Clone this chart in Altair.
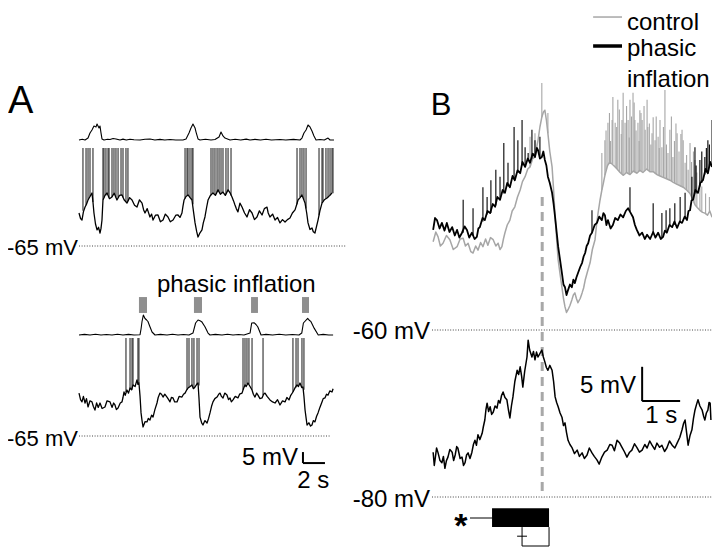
import altair as alt
import pandas as pd

FONT = "Liberation Sans"

# ---------------- Panel A, upper record (A1) ----------------
# membrane potential trace: time (s), mV
A1_T = [0.0, 0.14, 0.27, 0.4, 0.55, 0.68, 0.82, 1.0, 1.18, 1.27, 1.36, 1.5, 1.64, 1.78, 1.91, 2.0, 2.09, 2.14,
        2.18, 2.36, 2.55, 2.77, 3.0, 3.2, 3.45, 3.68, 3.91, 4.1, 4.36, 4.6, 4.82, 5.05, 5.27, 5.5, 5.73, 5.87,
        6.0, 6.2, 6.45, 6.6, 6.73, 6.95, 7.18, 7.4, 7.64, 7.85, 8.09, 8.3, 8.55, 8.8, 9.0, 9.18, 9.36, 9.45,
        9.55, 9.73, 9.91, 10.1, 10.27, 10.4, 10.55, 10.7, 10.82, 11.0, 11.18, 11.3, 11.45, 11.6, 11.73, 11.95,
        12.18, 12.4, 12.64, 12.85, 13.09, 13.3, 13.55, 13.75, 13.91, 14.05, 14.18, 14.3, 14.45, 14.63, 14.82,
        15.05, 15.27, 15.5, 15.73, 15.95, 16.18, 16.4, 16.64, 16.85, 17.09, 17.2, 17.36, 17.6, 17.82, 18.05,
        18.27, 18.5, 18.73, 18.95, 19.18, 19.4, 19.64, 19.8, 19.91, 20.1, 20.27, 20.4, 20.55, 20.7, 20.82, 21.0,
        21.18, 21.3, 21.45, 21.6, 21.73, 21.9, 22.09, 22.3, 22.55, 22.8, 23.0]
A1_MV = [-50.0, -52.5, -53.2, -49.5, -47.3, -46.0, -44.1, -42.5, -40.9, -45.0, -50.0, -55.0, -57.7, -56.5, -59.1,
         -57.0, -53.2, -48.0, -44.1, -42.0, -40.9, -43.5, -42.7, -41.0, -44.1, -42.0, -41.8, -44.0, -45.5, -43.0,
         -44.1, -46.5, -47.3, -44.0, -45.5, -48.5, -50.0, -48.0, -51.8, -50.5, -53.2, -51.0, -50.9, -54.0, -53.2,
         -50.5, -51.8, -54.0, -53.2, -51.0, -50.9, -52.0, -50.0, -47.0, -44.1, -42.5, -41.8, -43.0, -44.1, -49.0,
         -54.5, -58.5, -60.9, -59.0, -57.7, -54.5, -51.8, -47.5, -44.1, -42.0, -40.9, -42.0, -39.5, -41.5, -40.5,
         -42.0, -39.5, -41.0, -42.7, -44.5, -46.4, -48.0, -49.5, -45.5, -47.3, -50.0, -51.8, -48.5, -50.0, -53.0,
         -51.8, -49.0, -50.9, -48.0, -47.3, -50.0, -51.8, -50.5, -53.2, -52.0, -54.5, -53.0, -54.1, -53.0, -52.3,
         -50.0, -48.6, -46.0, -44.1, -43.0, -41.8, -43.5, -45.5, -50.0, -54.5, -57.5, -56.8, -58.5, -59.1, -56.0,
         -53.2, -49.0, -45.5, -44.0, -43.2, -42.0, -40.9]
# action potentials: (time s, foot mV); tops are truncated at A_SPIKE_TOP
A1_SPIKES = [(0.36, -49), (0.64, -46.5), (0.82, -44), (1.0, -42.5), (1.27, -45),
             (2.18, -44), (2.27, -43), (2.45, -42), (2.64, -41.5), (2.73, -43), (3.0, -42.7), (3.18, -41),
             (3.36, -43), (3.55, -43), (3.82, -42), (4.0, -43), (4.27, -45), (4.45, -44.5),
             (9.64, -43.5), (9.82, -42), (9.91, -41.8), (10.09, -43), (10.27, -44.1), (10.36, -46),
             (12.0, -42), (12.18, -40.9), (12.36, -41.8), (12.55, -40.5), (12.73, -40.3), (12.91, -41),
             (13.09, -40.5), (13.36, -41.5), (13.55, -39.5), (13.82, -42),
             (19.82, -46), (20.09, -43), (20.27, -41.8), (20.45, -44), (20.64, -48),
             (21.82, -51), (22.09, -45.5), (22.18, -44.5), (22.45, -43.5), (22.64, -42.8), (22.82, -42),
             (23.0, -40.9), (23.09, -41)]
A_SPIKE_TOP = -20.5
# respiratory (inflation) monitor, arbitrary units
A1_RESP_T = [0.0, 0.3, 0.55, 0.82, 1.0, 1.18, 1.36, 1.55, 1.64, 1.82, 1.91, 2.0, 2.09, 2.27, 2.6, 2.82, 3.1, 3.36,
             3.73, 4.0, 4.3, 4.64, 5.0, 5.55, 6.0, 6.45, 6.9, 7.36, 7.8, 8.27, 8.8, 9.45, 9.73, 10.0, 10.18, 10.36,
             10.55, 10.64, 10.82, 11.0, 11.5, 12.0, 12.36, 12.73, 12.91, 13.09, 13.27, 13.73, 14.2, 14.7, 15.2,
             15.55, 16.0, 16.5, 17.0, 17.5, 18.27, 18.8, 19.5, 20.09, 20.27, 20.45, 20.64, 20.82, 21.0, 21.18,
             21.36, 21.55, 21.91, 22.3, 22.64, 22.82, 23.18]
A1_RESP = [0.0, 0.05, 0.0, 0.13, 0.47, 0.67, 0.93, 0.87, 1.07, 0.8, 0.93, 0.47, 0.07, 0.0, 0.05, 0.03, 0.1, 0.07,
           0.0, 0.06, 0.0, 0.05, 0.02, 0.0, 0.05, 0.07, 0.0, 0.04, 0.0, 0.03, 0.0, 0.0, 0.07, 0.47, 0.8, 1.07,
           0.8, 0.53, 0.07, 0.0, 0.05, 0.0, 0.03, 0.2, 0.53, 0.27, 0.13, 0.0, 0.05, 0.0, 0.06,
           0.0, 0.04, 0.0, 0.05, 0.0, 0.03, 0.0, 0.04, 0.0, 0.13, 0.47, 0.67, 1.0, 0.87, 0.6,
           0.27, 0.0, 0.03, 0.0, 0.13, 0.0, 0.0]

# ---------------- Panel A, lower record (A2, phasic inflation) ----------------
A2_T = [0.0, 0.14, 0.27, 0.4, 0.55, 0.68, 0.82, 1.0, 1.18, 1.3, 1.45, 1.6, 1.75, 1.91, 2.1, 2.36, 2.55, 2.82, 3.0,
        3.15, 3.27, 3.4, 3.55, 3.75, 3.91, 4.0, 4.09, 4.2, 4.36, 4.5, 4.64, 4.78, 4.91, 5.1, 5.27, 5.36, 5.45,
        5.55, 5.64, 5.73, 5.82, 6.0, 6.18, 6.3, 6.45, 6.6, 6.73, 6.9, 7.09, 7.2, 7.36, 7.5, 7.64, 7.8, 8.0, 8.15,
        8.27, 8.4, 8.55, 8.7, 8.91, 9.1, 9.36, 9.5, 9.64, 9.8, 9.91, 10.1, 10.27, 10.4, 10.55, 10.7, 10.82,
        10.91, 11.0, 11.15, 11.27, 11.45, 11.64, 11.78, 11.91, 12.05, 12.18, 12.35, 12.55, 12.7, 12.82, 12.95,
        13.09, 13.25, 13.45, 13.6, 13.73, 13.85, 14.0, 14.2, 14.45, 14.6, 14.82, 14.95, 15.09, 15.2, 15.36,
        15.55, 15.73, 15.85, 16.0, 16.15, 16.27, 16.45, 16.64, 16.78, 16.91, 17.1, 17.36, 17.6, 17.82, 18.05,
        18.27, 18.5, 18.73, 18.9, 19.09, 19.25, 19.45, 19.65, 19.82, 19.95, 20.09, 20.25, 20.36, 20.45, 20.55,
        20.65, 20.73, 20.9, 21.05, 21.18, 21.3, 21.45, 21.6, 21.73, 21.9, 22.09, 22.2, 22.36, 22.5, 22.64,
        22.8, 23.0, 23.1]
A2_MV = [-45.5, -48.5, -49.5, -47.0, -50.0, -48.0, -51.8, -49.0, -49.5, -51.5, -53.2, -50.0, -52.0, -50.0, -52.5,
         -51.8, -49.0, -49.5, -52.0, -50.0, -50.9, -53.0, -52.3, -50.0, -49.5, -47.5, -45.0, -46.5, -44.1, -45.5,
         -43.2, -44.0, -41.8, -42.5, -39.5, -41.5, -40.9, -47.0, -54.5, -58.0, -60.9, -58.5, -58.6, -57.0, -57.7,
         -55.5, -56.4, -53.0, -50.0, -47.5, -45.5, -46.0, -47.3, -46.0, -47.3, -48.5, -49.5, -47.5, -47.7, -49.5,
         -49.5, -47.0, -47.3, -46.0, -45.5, -44.0, -43.2, -42.5, -41.8, -43.5, -42.7, -41.5, -40.9, -48.0, -56.4,
         -59.0, -60.0, -58.0, -59.1, -57.0, -54.5, -51.5, -49.5, -48.0, -47.3, -46.0, -45.5, -47.0, -47.7, -45.5,
         -46.4, -48.5, -47.7, -49.5, -48.6, -47.0, -47.7, -46.0, -45.5, -43.5, -41.8, -42.5, -40.9, -42.5, -44.1,
         -46.0, -47.3, -45.5, -46.4, -48.0, -47.7, -46.0, -45.5, -47.0, -48.6, -49.5, -50.0, -48.5, -50.9, -49.0,
         -49.5, -47.5, -48.6, -46.5, -45.0, -43.0, -41.8, -42.5, -40.9, -43.0, -42.7, -47.0, -53.2, -57.0, -60.0,
         -59.0, -60.5, -60.0, -58.0, -58.6, -56.0, -54.5, -52.0, -49.5, -48.0, -47.7, -46.0, -46.4, -44.5, -45.0,
         -43.5]
A2_SPIKES = [(4.27, -45), (4.64, -43.5), (4.82, -44), (4.91, -42), (5.36, -41.5), (5.45, -41),
             (9.82, -44), (10.0, -43), (10.27, -42), (10.45, -43), (10.73, -41.5), (10.91, -42),
             (14.91, -44), (15.09, -42), (15.27, -41.5), (15.45, -41.5), (15.73, -44), (16.73, -46.5),
             (19.45, -45), (19.73, -43), (19.91, -42), (20.27, -42.5), (20.45, -44)]
A2_RESP_T = [0.0, 0.5, 1.0, 1.5, 2.0, 2.5, 3.0, 3.5, 4.0, 4.5, 5.0, 5.55, 5.64, 5.73, 5.85, 6.0, 6.15, 6.27, 6.45,
             6.64, 6.91, 7.4, 8.0, 8.5, 9.0, 9.5, 10.0, 10.36, 10.6, 10.82, 11.0, 11.15, 11.45, 11.73, 11.91, 12.4,
             13.0, 13.5, 14.0, 14.5, 15.0, 15.55, 15.7, 15.91, 16.09, 16.25, 16.55, 17.0, 17.6, 18.2, 18.8, 19.4,
             20.0, 20.25, 20.4, 20.79, 20.91, 21.09, 21.39, 21.75, 22.2, 22.7, 23.1]
A2_RESP = [0.0, 0.04, 0.0, 0.05, 0.0, 0.03, 0.0, 0.05, 0.0, 0.04, 0.0, 0.02, 0.4, 0.9, 1.33, 1.1, 1.0, 0.9, 0.55,
           0.2, 0.0, 0.04, 0.0, 0.05, 0.0, 0.03, 0.0, 0.13, 0.8, 1.0, 0.95, 0.89, 0.55, 0.13, 0.0, 0.04,
           0.0, 0.05, 0.0, 0.03, 0.0, 0.13, 0.8, 0.82, 0.7, 0.55, 0.0, 0.04, 0.0, 0.05, 0.0, 0.03,
           0.0, 0.13, 0.8, 1.11, 1.0, 0.89, 0.44, 0.0, 0.04, 0.0, 0.0]
# phasic inflation pulses (start s, end s)
INFLATIONS = [(5.45, 6.18), (10.45, 11.18), (15.64, 16.27), (20.27, 20.91)]

# ---------------- Panel B ----------------
B_T_PHASIC = [0.03, 0.08, 0.13, 0.2, 0.26, 0.33, 0.39, 0.46, 0.53, 0.6, 0.66, 0.72, 0.79, 0.86, 0.92, 0.98, 1.05,
              1.12, 1.18, 1.22, 1.26, 1.33, 1.39, 1.46, 1.53, 1.6, 1.66, 1.72, 1.79, 1.86, 1.92, 1.98, 2.05,
              2.12, 2.18, 2.25, 2.32, 2.38, 2.45, 2.52, 2.58, 2.65, 2.71, 2.76, 2.79, 2.84, 2.89, 2.93, 2.97,
              3.01, 3.05, 3.1, 3.16, 3.2, 3.24, 3.28, 3.32, 3.37, 3.42, 3.46, 3.5, 3.54, 3.58, 3.63, 3.68, 3.72,
              3.76, 3.8, 3.84, 3.9, 3.95, 3.99, 4.03, 4.07, 4.11, 4.16, 4.21, 4.28, 4.34, 4.4, 4.47, 4.51, 4.55,
              4.59, 4.63, 4.7, 4.76, 4.82, 4.89, 4.96, 5.03, 5.1, 5.16, 5.22, 5.29, 5.34, 5.39, 5.46, 5.53, 5.6,
              5.66, 5.74, 5.82, 5.88, 5.95, 6.02, 6.08, 6.13, 6.18, 6.25, 6.32, 6.38, 6.45, 6.52, 6.58, 6.65,
              6.71, 6.75, 6.79, 6.83, 6.87, 6.93, 7.0, 7.06, 7.13, 7.2, 7.26, 7.32, 7.37]
B_MV_PHASIC = [-45.7, -44.0, -44.3, -45.5, -44.7, -45.8, -44.7, -46.0, -45.3, -46.5, -45.7, -46.8, -46.1, -45.2,
               -45.7, -46.8, -46.1, -47.0, -46.7, -45.5, -45.3, -44.0, -44.3, -43.0, -43.3, -42.0, -42.4, -41.0,
               -41.4, -40.0, -40.4, -39.0, -39.6, -38.0, -38.6, -37.2, -37.6, -36.0, -36.7, -35.5, -36.1, -34.8,
               -35.3, -34.0, -34.3, -35.5, -35.3, -34.5, -35.7, -36.5, -38.1, -39.0, -40.4, -42.0, -43.9, -46.0,
               -48.1, -50.0, -51.9, -53.5, -53.9, -55.0, -54.3, -53.5, -53.9, -52.8, -53.3, -52.5, -51.9, -51.0,
               -50.4, -49.5, -49.0, -48.0, -47.6, -46.5, -46.1, -45.0, -44.7, -43.8, -44.3, -43.3, -43.6, -45.0,
               -44.3, -45.5, -45.0, -44.0, -44.3, -43.5, -43.9, -43.0, -42.6, -43.2, -43.9, -45.0, -45.7, -46.5,
               -46.1, -47.0, -46.4, -47.0, -46.0, -46.8, -46.1, -47.0, -46.7, -45.8, -46.1, -45.0, -45.3, -44.5,
               -45.4, -44.5, -44.7, -43.8, -44.3, -43.0, -42.9, -41.5, -41.4, -40.0, -40.4, -39.0, -38.6, -37.0,
               -37.6, -36.0, -36.7]
# (time, top mV, foot mV)
B_SPIKES_PHASIC = [(0.82, -41.4, -46.1), (1.08, -42.6, -46.5), (1.34, -39.6, -44.5), (1.45, -41.0, -43.5),
                   (1.55, -38.6, -43.3), (1.68, -37.1, -42.2), (1.79, -38.1, -41.4), (1.89, -33.3, -40.5),
                   (2.0, -36.1, -39.5), (2.16, -31.0, -38.5), (2.26, -32.9, -37.5), (2.37, -30.0, -36.5),
                   (2.45, -33.9, -36.7), (2.53, -34.7, -35.8), (2.63, -31.4, -35.5), (2.71, -32.9, -35.3),
                   (2.84, -32.4, -35.4), (4.21, -42.9, -46.1), (5.21, -39.6, -43.0), (5.82, -41.9, -46.0),
                   (6.05, -43.3, -46.8), (6.16, -42.9, -46.0), (6.26, -42.6, -45.1), (6.39, -41.9, -45.0),
                   (6.53, -41.0, -44.6), (6.66, -40.4, -44.0), (6.84, -38.1, -41.5), (6.92, -33.9, -40.3),
                   (6.95, -36.5, -40.5), (7.05, -35.7, -39.5), (7.1, -34.5, -39.0), (7.18, -35.3, -37.8),
                   (7.22, -34.0, -37.5), (7.26, -32.9, -37.6), (7.3, -33.5, -36.5), (7.37, -30.0, -36.7)]
B_T_CONTROL = [0.03, 0.1, 0.16, 0.22, 0.29, 0.38, 0.47, 0.56, 0.66, 0.74, 0.82, 0.88, 0.95, 1.02, 1.08, 1.15, 1.21,
               1.28, 1.34, 1.41, 1.47, 1.54, 1.61, 1.68, 1.74, 1.79, 1.84, 1.88, 1.92, 1.98, 2.05, 2.11, 2.18,
               2.25, 2.32, 2.38, 2.45, 2.52, 2.58, 2.65, 2.71, 2.75, 2.79, 2.84, 2.89, 2.93, 2.97, 3.01, 3.05,
               3.1, 3.16, 3.2, 3.24, 3.28, 3.32, 3.37, 3.42, 3.46, 3.5, 3.54, 3.58, 3.63, 3.68, 3.72, 3.76, 3.8,
               3.84, 3.9, 3.95, 3.99, 4.03, 4.1, 4.16, 4.22, 4.29, 4.33, 4.37, 4.42, 4.47, 4.51, 4.55, 4.62, 4.68,
               4.78, 4.87, 4.95, 5.03, 5.12, 5.21, 5.3, 5.39, 5.47, 5.55, 5.65, 5.74, 5.83, 5.92, 6.0, 6.08, 6.17,
               6.26, 6.35, 6.45, 6.53, 6.61, 6.7, 6.79, 6.85, 6.92, 6.98, 7.05, 7.12, 7.18, 7.25, 7.31, 7.37]
B_MV_CONTROL = [-47.4, -46.0, -46.7, -48.0, -47.6, -46.5, -47.1, -48.5, -48.1, -47.0, -46.9, -48.0, -47.6, -48.8,
                -49.0, -48.0, -48.6, -47.5, -48.1, -47.0, -47.9, -46.8, -47.1, -48.0, -47.6, -48.5, -48.1, -47.0,
                -46.1, -45.0, -44.3, -43.0, -42.4, -41.0, -40.0, -38.8, -38.1, -37.0, -36.7, -35.5, -35.3, -34.0,
                -32.9, -31.0, -29.6, -28.9, -28.6, -30.0, -31.9, -34.5, -36.7, -40.0, -43.9, -47.0, -50.0, -52.0,
                -53.9, -55.5, -56.7, -57.5, -57.1, -56.5, -55.7, -55.0, -54.7, -55.5, -56.1, -55.5, -54.7, -54.0,
                -52.9, -51.5, -50.4, -48.5, -47.1, -45.0, -43.3, -41.5, -40.0, -39.0, -37.9, -36.5, -36.0, -36.5,
                -37.0, -37.5, -37.9, -37.5, -37.8, -37.3, -37.6, -37.2, -37.5, -37.0, -37.4, -37.4, -37.8, -38.0,
                -38.2, -38.4, -38.6, -38.9, -39.2, -39.4, -39.6, -40.0, -40.5, -41.2, -42.1, -42.5, -42.9, -43.2,
                -43.3, -43.6, -43.0, -43.9]
B_SPIKES_CONTROL = [(2.58, -32.4, -36.7), (2.71, -31.9, -35.3), (2.89, -24.7, -29.6), (3.05, -29.0, -31.9),
                    (4.47, -34.7, -40.0), (4.55, -32.9, -37.9), (4.58, -31.5, -37.2), (4.63, -30.4, -36.4),
                    (4.67, -29.0, -36.1), (4.7, -33.0, -36.0), (4.74, -30.0, -36.2), (4.76, -26.7, -36.3),
                    (4.82, -30.4, -36.7), (4.86, -31.0, -36.9), (4.89, -27.1, -37.1), (4.93, -28.5, -37.3),
                    (4.98, -32.0, -37.6), (5.0, -30.0, -37.7), (5.03, -26.1, -37.8), (5.08, -30.4, -37.6),
                    (5.12, -28.0, -37.5), (5.16, -30.0, -37.6), (5.19, -32.5, -37.7), (5.21, -27.1, -37.8),
                    (5.25, -29.5, -37.6), (5.29, -26.1, -37.4), (5.32, -27.5, -37.4), (5.34, -30.0, -37.5),
                    (5.37, -31.5, -37.6), (5.42, -30.4, -37.4), (5.45, -33.0, -37.3), (5.47, -28.6, -37.2),
                    (5.5, -29.0, -37.3), (5.53, -30.0, -37.4), (5.58, -28.0, -37.3), (5.61, -31.4, -37.1),
                    (5.66, -27.1, -37.1), (5.68, -31.0, -37.2), (5.72, -30.5, -37.3), (5.76, -33.5, -37.4),
                    (5.79, -31.9, -37.4), (5.82, -29.6, -37.4), (5.87, -32.9, -37.6), (5.9, -29.5, -37.7),
                    (5.95, -32.4, -37.9), (5.98, -34.0, -38.0), (6.0, -30.0, -38.0), (6.05, -33.9, -38.1),
                    (6.09, -31.0, -38.2), (6.13, -25.7, -38.3), (6.17, -33.5, -38.4), (6.21, -34.7, -38.5),
                    (6.26, -31.4, -38.6), (6.3, -29.5, -38.7), (6.34, -35.3, -38.8), (6.38, -33.0, -39.0),
                    (6.42, -30.5, -39.1), (6.45, -31.9, -39.2), (6.5, -34.5, -39.3), (6.55, -32.0, -39.5),
                    (6.58, -31.4, -39.5), (6.61, -32.9, -39.6), (6.66, -36.1, -39.8), (6.7, -35.0, -40.0),
                    (6.74, -37.1, -40.2), (6.79, -33.3, -40.5), (6.83, -36.0, -40.9), (6.88, -34.5, -41.5),
                    (6.92, -35.7, -42.1), (6.97, -37.5, -42.4), (7.05, -38.6, -42.9), (7.1, -39.5, -43.1),
                    (7.2, -40.5, -43.4), (7.3, -41.0, -43.1)]
# lower record of B
B_T_LOW = [0.03, 0.06, 0.08, 0.12, 0.16, 0.21, 0.26, 0.3, 0.34, 0.38, 0.42, 0.47, 0.53, 0.57, 0.61, 0.65, 0.68,
           0.74, 0.79, 0.83, 0.87, 0.91, 0.95, 1.0, 1.05, 1.09, 1.13, 1.17, 1.21, 1.26, 1.32, 1.35, 1.39, 1.42,
           1.45, 1.49, 1.53, 1.57, 1.61, 1.66, 1.71, 1.75, 1.79, 1.83, 1.87, 1.92, 1.97, 2.01, 2.05, 2.09, 2.13,
           2.18, 2.24, 2.28, 2.32, 2.36, 2.39, 2.44, 2.5, 2.53, 2.57, 2.63, 2.67, 2.71, 2.75, 2.79, 2.84, 2.89,
           2.93, 2.97, 3.01, 3.05, 3.1, 3.16, 3.2, 3.24, 3.28, 3.32, 3.37, 3.42, 3.46, 3.5, 3.54, 3.58, 3.63,
           3.68, 3.75, 3.82, 3.88, 3.95, 4.01, 4.08, 4.14, 4.21, 4.27, 4.34, 4.4, 4.47, 4.54, 4.61, 4.68, 4.74,
           4.8, 4.87, 4.94, 5.0, 5.06, 5.13, 5.2, 5.26, 5.33, 5.39, 5.46, 5.53, 5.6, 5.66, 5.73, 5.79, 5.86,
           5.92, 5.99, 6.05, 6.12, 6.18, 6.25, 6.32, 6.39, 6.45, 6.52, 6.58, 6.62, 6.66, 6.7, 6.74, 6.79, 6.84,
           6.88, 6.92, 6.96, 7.0, 7.05, 7.11, 7.15, 7.18, 7.22, 7.26, 7.29, 7.32, 7.34]
B_MV_LOW = [-73.6, -75.5, -74.7, -73.0, -73.7, -74.8, -75.1, -74.2, -75.9, -74.8, -74.3, -73.2, -73.6, -74.8,
            -74.0, -72.8, -73.0, -74.5, -74.3, -75.5, -75.1, -74.0, -73.7, -74.5, -73.6, -72.5, -71.9, -72.6,
            -71.1, -71.8, -70.9, -70.0, -69.0, -67.5, -66.6, -67.8, -67.1, -68.2, -67.9, -67.0, -67.3, -66.2,
            -66.6, -65.5, -65.0, -65.8, -66.1, -67.5, -68.7, -67.0, -65.7, -63.5, -61.9, -62.5, -61.4, -62.8,
            -64.3, -62.0, -60.0, -57.6, -59.0, -60.0, -59.2, -60.4, -59.3, -60.0, -59.5, -59.0, -60.0, -60.7,
            -61.5, -61.9, -61.2, -61.9, -63.5, -65.7, -66.5, -67.1, -68.0, -68.6, -69.8, -69.4, -70.8, -71.9,
            -72.5, -72.9, -73.8, -73.3, -74.2, -73.7, -74.5, -74.0, -73.0, -73.7, -74.2, -74.7, -75.3, -74.3,
            -73.6, -73.3, -72.5, -72.6, -73.4, -71.9, -72.3, -72.9, -73.5, -74.3, -73.6, -73.3, -72.4, -72.9,
            -73.6, -73.3, -72.5, -73.0, -72.0, -72.6, -73.2, -72.3, -72.9, -72.6, -73.5, -73.0, -72.0, -72.6,
            -73.0, -72.3, -71.5, -70.4, -69.5, -69.0, -70.8, -72.6, -71.2, -70.4, -68.8, -67.6, -66.8, -66.1,
            -67.0, -67.6, -68.5, -69.0, -68.0, -67.6, -66.5, -66.6, -69.0]
B_STIM_MARK = 2.9            # time of inflation marker (s)
B_STIM_BAR = (1.58, 3.08)    # summary bar (s)
B_STIM_LEAD = (1.0, 1.58)
B_STIM_ERR = (2.37, 3.08)

# ---------------- layout (pixel ranges of each panel's scales) ----------------
def sc(domain, rng):
    return alt.Scale(domain=domain, range=rng, nice=False, zero=False)

A_X = sc([0, 24], [71, 335])
A1_Y = sc([-65, -20], [238, 139])
A1_R = sc([0, 1], [132, 117])
A2_Y = sc([-65, -20], [428, 329])
A2_R = sc([0, 1], [327, 312])
B_X = sc([0, 7.5], [424, 709])
BU_Y = sc([-60, -20], [322, 42])
BL_Y = sc([-80, -60], [489, 349])

layers = []


def trace(t, v, xs, ys, color, width):
    df = pd.DataFrame({"t": t, "v": v, "i": list(range(len(t)))})
    return alt.Chart(df).mark_line(color=color, strokeWidth=width, strokeJoin="round").encode(
        x=alt.X("t:Q", scale=xs, axis=None),
        y=alt.Y("v:Q", scale=ys, axis=None),
        order="i:Q")


def spikes(t, top, base, xs, ys, color, width):
    df = pd.DataFrame({"t": t, "top": top, "base": base})
    return alt.Chart(df).mark_rule(color=color, strokeWidth=width).encode(
        x=alt.X("t:Q", scale=xs, axis=None),
        y=alt.Y("top:Q", scale=ys, axis=None),
        y2="base:Q")


def seg(t0, t1, v0, v1, xs, ys, color="black", width=1.0, dash=None):
    df = pd.DataFrame({"t0": [t0], "t1": [t1], "v0": [v0], "v1": [v1]})
    kw = dict(color=color, strokeWidth=width)
    if dash:
        kw["strokeDash"] = dash
    return alt.Chart(df).mark_rule(**kw).encode(
        x=alt.X("t0:Q", scale=xs, axis=None), x2="t1:Q",
        y=alt.Y("v0:Q", scale=ys, axis=None), y2="v1:Q")


def label(text, t, v, xs, ys, size=24, align="left", weight="normal"):
    df = pd.DataFrame({"t": [t], "v": [v], "s": [text]})
    return alt.Chart(df).mark_text(font=FONT, fontSize=size, align=align, baseline="alphabetic",
                                   color="black", fontWeight=weight).encode(
        x=alt.X("t:Q", scale=xs, axis=None),
        y=alt.Y("v:Q", scale=ys, axis=None),
        text="s:N")


DOT = [1, 1.6]
# reference lines
layers.append(seg(0, 24.2, -65, -65, A_X, A1_Y, "#444", 1, DOT))
layers.append(seg(0, 22.8, -65, -65, A_X, A2_Y, "#444", 1, DOT))
layers.append(seg(0, 7.37, -60, -60, B_X, BU_Y, "#444", 1, DOT))
layers.append(seg(0, 7.37, -80, -80, B_X, BL_Y, "#444", 1, DOT))

# Panel A traces
layers.append(spikes([s[0] for s in A1_SPIKES], A_SPIKE_TOP, [s[1] for s in A1_SPIKES], A_X, A1_Y, "#222", 1.05))
layers.append(trace(A1_T, A1_MV, A_X, A1_Y, "black", 1.3))
layers.append(trace(A1_RESP_T, A1_RESP, A_X, A1_R, "black", 1.1))
layers.append(spikes([s[0] for s in A2_SPIKES], A_SPIKE_TOP, [s[1] for s in A2_SPIKES], A_X, A2_Y, "#222", 1.05))
layers.append(trace(A2_T, A2_MV, A_X, A2_Y, "black", 1.3))
layers.append(trace(A2_RESP_T, A2_RESP, A_X, A2_R, "black", 1.1))
infl = pd.DataFrame({"t0": [a for a, b in INFLATIONS], "t1": [b for a, b in INFLATIONS],
                     "r0": [1.47] * len(INFLATIONS), "r1": [2.53] * len(INFLATIONS)})
layers.append(alt.Chart(infl).mark_rect(color="#8f8f8f").encode(
    x=alt.X("t0:Q", scale=A_X, axis=None), x2="t1:Q",
    y=alt.Y("r0:Q", scale=A2_R, axis=None), y2="r1:Q"))

# Panel A text and scale bar
layers.append(label("A", -6.45, -4.5, A_X, A1_Y, size=38))
layers.append(label("-65 mV", -0.1, -69.1, A_X, A1_Y, size=22, align="right"))
layers.append(label("-65 mV", -0.1, -69.5, A_X, A2_Y, size=22, align="right"))
layers.append(label("phasic inflation", 14.3, 2.87, A_X, A2_R, align="center"))
layers.append(seg(20.36, 20.36, -77.3, -72.3, A_X, A2_Y, "black", 2))
layers.append(seg(20.36, 22.36, -77.3, -77.3, A_X, A2_Y, "black", 2))
layers.append(label("5 mV", 19.9, -78.2, A_X, A2_Y, align="right"))
layers.append(label("2 s", 21.3, -88.6, A_X, A2_Y, align="center"))

# Panel B
layers.append(seg(B_STIM_MARK, B_STIM_MARK, -41, -83.9, B_X, BU_Y, "#a8a8a8", 3, [9, 6]))
layers.append(spikes([s[0] for s in B_SPIKES_CONTROL], [s[1] for s in B_SPIKES_CONTROL],
                     [s[2] for s in B_SPIKES_CONTROL], B_X, BU_Y, "#a6a6a6", 1.1))
layers.append(trace(B_T_CONTROL, B_MV_CONTROL, B_X, BU_Y, "#a6a6a6", 1.5))
layers.append(spikes([s[0] for s in B_SPIKES_PHASIC], [s[1] for s in B_SPIKES_PHASIC],
                     [s[2] for s in B_SPIKES_PHASIC], B_X, BU_Y, "black", 1.1))
layers.append(trace(B_T_PHASIC, B_MV_PHASIC, B_X, BU_Y, "black", 1.8))
layers.append(trace(B_T_LOW, B_MV_LOW, B_X, BL_Y, "black", 1.5))

layers.append(label("B", -0.03, -29.3, B_X, BU_Y, size=31))
layers.append(label("-60 mV", -0.05, -61.3, B_X, BU_Y, align="right"))
layers.append(label("-80 mV", -0.05, -81.4, B_X, BL_Y, align="right"))
# legend
layers.append(seg(4.24, 5.0, -15.29, -15.29, B_X, BU_Y, "#a6a6a6", 1.5))
layers.append(seg(4.24, 5.0, -19.43, -19.43, B_X, BU_Y, "black", 3.5))
layers.append(label("control", 5.13, -17.14, B_X, BU_Y))
layers.append(label("phasic", 5.13, -20.86, B_X, BU_Y))
layers.append(label("inflation", 5.13, -25.29, B_X, BU_Y))
# scale bar B
layers.append(seg(5.53, 5.53, -66.3, -61.4, B_X, BL_Y, "black", 2))
layers.append(seg(5.53, 6.53, -66.3, -66.3, B_X, BL_Y, "black", 2))
layers.append(label("5 mV", 5.37, -65.1, B_X, BL_Y, align="right"))
layers.append(label("1 s", 6.03, -69.4, B_X, BL_Y, align="center"))
# stimulus summary bar with error bracket
stim = pd.DataFrame({"t0": [B_STIM_BAR[0]], "t1": [B_STIM_BAR[1]], "v0": [-81.6], "v1": [-84.3]})
layers.append(alt.Chart(stim).mark_rect(color="black").encode(
    x=alt.X("t0:Q", scale=B_X, axis=None), x2="t1:Q",
    y=alt.Y("v0:Q", scale=BL_Y, axis=None), y2="v1:Q"))
layers.append(seg(B_STIM_LEAD[0], B_STIM_LEAD[1], -83.0, -83.0, B_X, BL_Y, "black", 1))
layers.append(seg(B_STIM_ERR[0], B_STIM_ERR[0], -84.3, -87.0, B_X, BL_Y, "black", 1))
layers.append(seg(B_STIM_ERR[0] - 0.13, B_STIM_ERR[0] + 0.13, -85.6, -85.6, B_X, BL_Y, "black", 1))
layers.append(seg(B_STIM_ERR[0], B_STIM_ERR[1], -87.0, -87.0, B_X, BL_Y, "black", 1))
layers.append(seg(B_STIM_ERR[1], B_STIM_ERR[1], -84.3, -87.0, B_X, BL_Y, "black", 1))
layers.append(label("*", 0.76, -85.7, B_X, BL_Y, size=34, align="center", weight="bold"))

chart = alt.layer(*layers).resolve_scale(x="independent", y="independent").properties(
    width=704, height=540, padding=0, autosize=alt.AutoSizeParams(type="none")
).configure_view(stroke=None)

chart.save("out.html", embed_options={"renderer": "svg", "actions": False})
